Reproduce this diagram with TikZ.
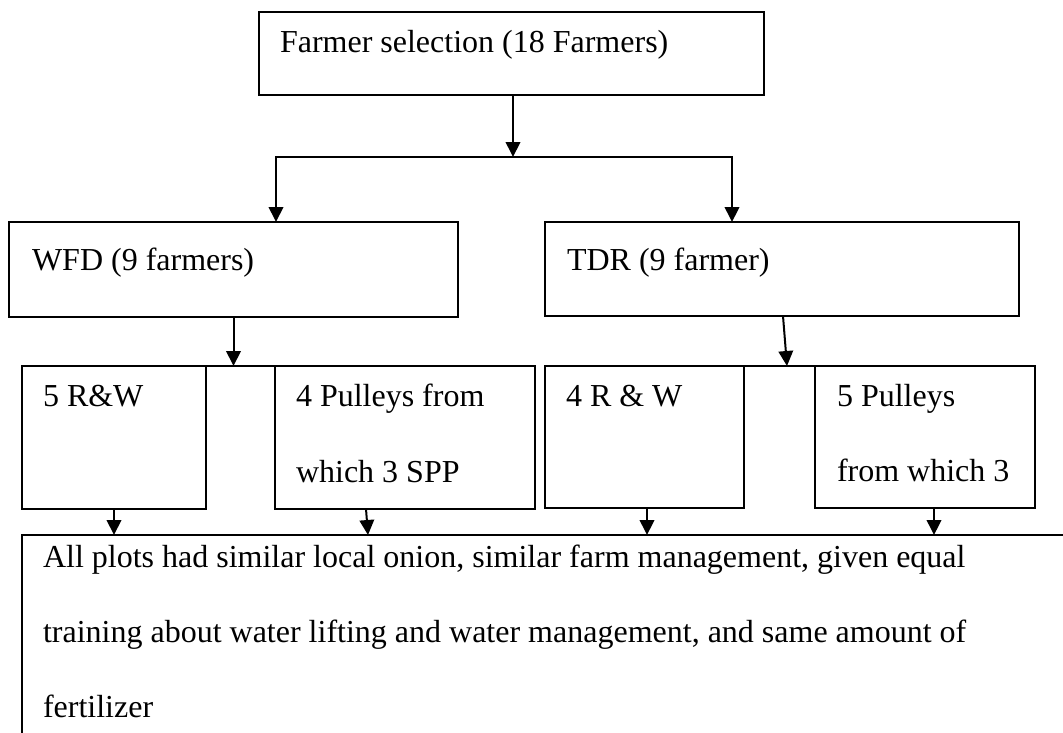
\documentclass[tikz,border=0pt]{standalone}
\usepackage{fontspec}
\setmainfont{Liberation Serif}
\usetikzlibrary{arrows.meta}
\begin{document}
\begin{tikzpicture}[x=1pt,y=-1pt,
  box/.style={draw, line width=1.9pt, inner sep=0pt, outer sep=0pt, anchor=north west},
  lbl/.style={anchor=base west, inner sep=0pt, outer sep=0pt, font=\fontsize{32}{38}\selectfont},
  tip/.tip={Triangle[width=14.5pt,length=15pt]},
  arr/.style={-tip, line width=2pt},
  ln/.style={line width=1.9pt}]
\useasboundingbox (0,0) rectangle (1063,732);
\fill[white] (0,0) rectangle (1063,732);
\clip (0,0) rectangle (1063,732);

% boxes
\node[box, minimum width=505pt, minimum height=83pt] (sel) at (259,12) {};
\node[box, minimum width=449pt, minimum height=95pt] (wfd) at (9,222) {};
\node[box, minimum width=474pt, minimum height=94pt] (tdr) at (545,222) {};
\node[box, minimum width=184pt, minimum height=143pt] (d1) at (22,366) {};
\node[box, minimum width=260pt, minimum height=143pt] (d2) at (275,366) {};
\node[box, minimum width=199pt, minimum height=142pt] (d3) at (545,366) {};
\node[box, minimum width=220pt, minimum height=142pt] (d4) at (815,366) {};
\node[box, minimum width=1060pt, minimum height=230pt] (bot) at (22,535) {};

% texts
\node[lbl] (selT) at (280,52) {Farmer selection (18 Farmers)};
\node[lbl] (wfdT) at (32,270) {WFD (9 farmers)};
\node[lbl] (tdrT) at (567,270) {TDR (9 farmer)};
\node[lbl] (d1T) at (43,406) {5 R\&W};
\node[lbl] (d2Ta) at (296,406) {4 Pulleys from};
\node[lbl] (d2Tb) at (296,482) {which 3 SPP};
\node[lbl] (d3T) at (566,406) {4 R \& W};
\node[lbl] (d4Ta) at (837,406) {5 Pulleys};
\node[lbl] (d4Tb) at (837,481) {from which 3};
\node[lbl] (botTa) at (43,567) {All plots had similar local onion, similar farm management, given equal};
\node[lbl] (botTb) at (43,642) {training about water lifting and water management, and same amount of};
\node[lbl] (botTc) at (43,717) {fertilizer};

% connectors
\coordinate (jL) at (276,157);
\coordinate (jR) at (732,157);
\draw[arr] ([xshift=1.5pt]sel.south) -- ([xshift=1.5pt]sel.south |- jL);
\draw[tip-tip, line width=2pt, line join=miter] (wfd.north -| jL) |- (jR) -- (tdr.north -| jR);
\draw[arr] (wfd.south) -- (wfd.south |- d1.north);
\draw[arr] ([xshift=1pt]tdr.south) -- ([xshift=5pt]tdr.south |- d3.north);
\draw[ln] (d1.north east) -- (d2.north west);
\draw[ln] (d3.north east) -- (d4.north west);
\draw[arr] (d1.south) -- (d1.south |- bot.north);
\draw[arr] ([xshift=-39pt]d2.south) -- ([xshift=-37pt]d2.south |- bot.north);
\draw[arr] ([xshift=2.5pt]d3.south) -- ([xshift=2.5pt]d3.south |- bot.north);
\draw[arr] ([xshift=9pt]d4.south) -- ([xshift=9pt]d4.south |- bot.north);
\end{tikzpicture}
\end{document}
